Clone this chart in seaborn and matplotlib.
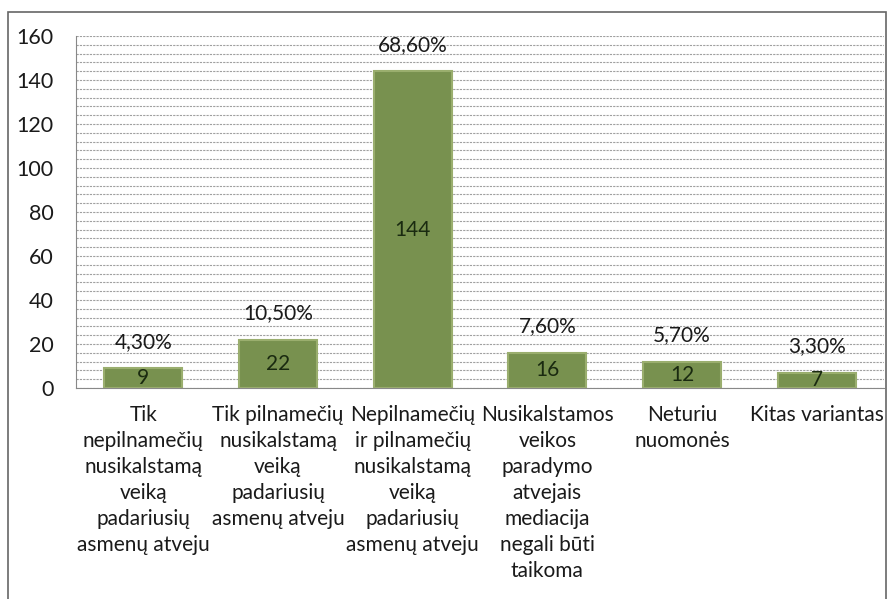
import numpy as np
import pandas as pd
import seaborn as sns
import matplotlib.pyplot as plt
from matplotlib.patches import Rectangle

categories = [
    "Tik\nnepilnamečių\nnusikalstamą\nveiką\npadariusių\nasmenų atveju",
    "Tik pilnamečių\nnusikalstamą\nveiką\npadariusių\nasmenų atveju",
    "Nepilnamečių\nir pilnamečių\nnusikalstamą\nveiką\npadariusių\nasmenų atveju",
    "Nusikalstamos\nveikos\nparadymo\natvejais\nmediacija\nnegali būti\ntaikoma",
    "Neturiu\nnuomonės",
    "Kitas variantas",
]
counts = [9, 22, 144, 16, 12, 7]
percents = ["4,30%", "10,50%", "68,60%", "7,60%", "5,70%", "3,30%"]

df = pd.DataFrame({"cat": categories, "n": counts})

sns.set_style("white")
plt.rcParams['font.family'] = ['Lato', 'DejaVu Sans']

fig = plt.figure(figsize=(8.88, 5.99), dpi=100)
ax = fig.add_axes([76 / 888, 1 - 388 / 599, 808 / 888, 352 / 599])

sns.barplot(data=df, x="cat", y="n", color="#78914f", width=0.58,
            edgecolor="#9aae6e", linewidth=1.5, saturation=1, ax=ax)

ax.set_ylim(0, 160)
ax.set_yticks(range(0, 161, 20))
ax.set_yticks(range(0, 161, 4), minor=True)
ax.grid(axis="y", which="both", color="#a0a0a0", linewidth=0.8, linestyle=(0, (2, 1)))
ax.set_axisbelow(True)
ax.set_xlabel("")
ax.set_ylabel("")

for s in ["top", "right"]:
    ax.spines[s].set_visible(False)
ax.spines["left"].set_color("#888888")
ax.spines["bottom"].set_color("#888888")

ax.tick_params(axis="y", which="both", length=0, labelsize=15.5, pad=16, colors="#1a1a1a")
ax.tick_params(axis="x", length=0, labelsize=15, pad=12, colors="#1a1a1a")
for lab in ax.get_xticklabels():
    lab.set_multialignment("center")
    lab.set_linespacing(1.38)

for i, (c, p) in enumerate(zip(counts, percents)):
    ax.text(i, c / 2, str(c), ha="center", va="center", fontsize=15, color="#1a2a10")
    ax.annotate(p, (i, c), xytext=(0, 19), textcoords="offset points",
                ha="center", va="center", fontsize=15, color="#1a1a1a",
                annotation_clip=False)

fig.patches.append(Rectangle((8 / 888, -0.01), 878 / 888, 1 - 12 / 599 + 0.01,
                             transform=fig.transFigure, fill=False,
                             edgecolor="#666666", linewidth=1.2))

fig.savefig("out.png", dpi=100)
